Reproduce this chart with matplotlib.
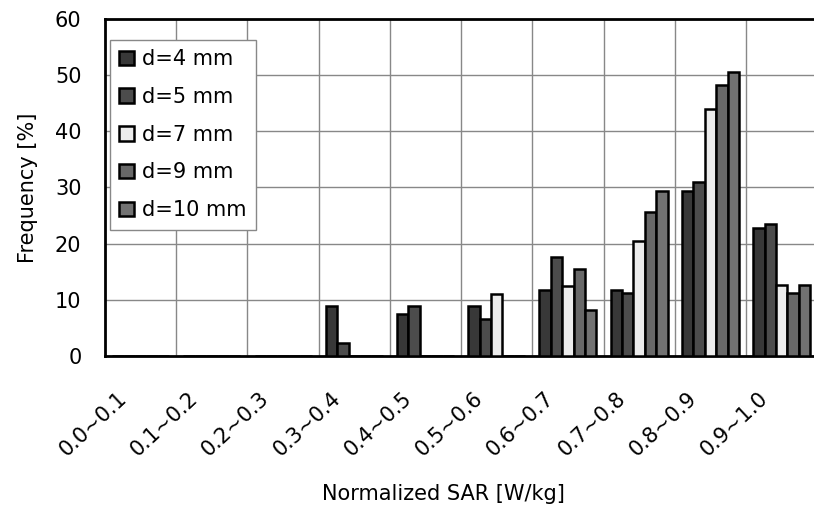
import matplotlib
matplotlib.use('Agg')
import matplotlib.pyplot as plt
import matplotlib.transforms as mtransforms
import numpy as np

plt.rcParams['font.family'] = ['DejaVu Sans']

# SAR bins and frequency [%] per distance d
bins = ['0.0~0.1', '0.1~0.2', '0.2~0.3', '0.3~0.4', '0.4~0.5',
        '0.5~0.6', '0.6~0.7', '0.7~0.8', '0.8~0.9', '0.9~1.0']
d4 = [0, 0, 0, 8.9, 7.5, 8.9, 11.8, 11.8, 29.4, 22.8]
d5 = [0, 0, 0, 2.3, 8.9, 6.6, 17.7, 11.2, 30.9, 23.5]
d7 = [0, 0, 0, 0, 0, 11.1, 12.5, 20.4, 43.9, 12.6]
d9 = [0, 0, 0, 0, 0, 0, 15.5, 25.6, 48.3, 11.2]
d10 = [0, 0, 0, 0, 0, 0, 8.2, 29.4, 50.6, 12.6]
series = ['d=4 mm', 'd=5 mm', 'd=7 mm', 'd=9 mm', 'd=10 mm']
colors = ['#383838', '#4c4c4c', '#ececec', '#686868', '#727272']

fig = plt.figure(figsize=(8.14, 5.15), dpi=100)
ax = fig.add_axes([0.129, 0.309, 0.875, 0.654])

x = np.arange(len(bins))
w = 0.16
for k, (vals, lab, c) in enumerate(zip([d4, d5, d7, d9, d10], series, colors)):
    ax.bar(x - 0.4 + w * (k + 0.5), vals, width=w, color=c,
           edgecolor='black', linewidth=1.8, label=lab, zorder=3)

ax.set_xlim(-0.5, len(bins) - 0.5)
ax.set_ylim(0, 60)
ax.set_yticks(np.arange(0, 61, 10))
ax.set_xticks(x)
ax.set_xticklabels(bins, rotation=43, ha='right', va='top', fontsize=15)
ax.set_xticks(x[:-1] + 0.5, minor=True)
ax.tick_params(axis='both', which='both', length=0)
ax.tick_params(axis='y', pad=17, labelsize=15)
ax.tick_params(axis='x', pad=23)
shift = mtransforms.ScaledTranslation(-0.1, 0, fig.dpi_scale_trans)
for t in ax.get_xticklabels():
    t.set_transform(t.get_transform() + shift)

ax.yaxis.grid(True, color='#888888', linewidth=1.0, zorder=0)
ax.xaxis.grid(True, which='minor', color='#888888', linewidth=1.0, zorder=0)
ax.set_axisbelow(True)

for s in ['top', 'left', 'bottom']:
    ax.spines[s].set_linewidth(2.0)
    ax.spines[s].set_color('black')
ax.spines['right'].set_visible(False)

ax.set_ylabel('Frequency [%]', fontsize=15, labelpad=12)
ax.set_xlabel('Normalized SAR [W/kg]', fontsize=15)
ax.xaxis.set_label_coords(0.475, -0.38)

leg = ax.legend(loc='upper left', bbox_to_anchor=(0.007, 0.938), fontsize=15,
                handlelength=0.7, handleheight=0.7, handletextpad=0.4,
                labelspacing=0.85, borderpad=0.45, borderaxespad=0,
                fancybox=False, framealpha=1, edgecolor='#888888')
leg.get_frame().set_linewidth(1.0)

fig.savefig('out.png', dpi=100)
